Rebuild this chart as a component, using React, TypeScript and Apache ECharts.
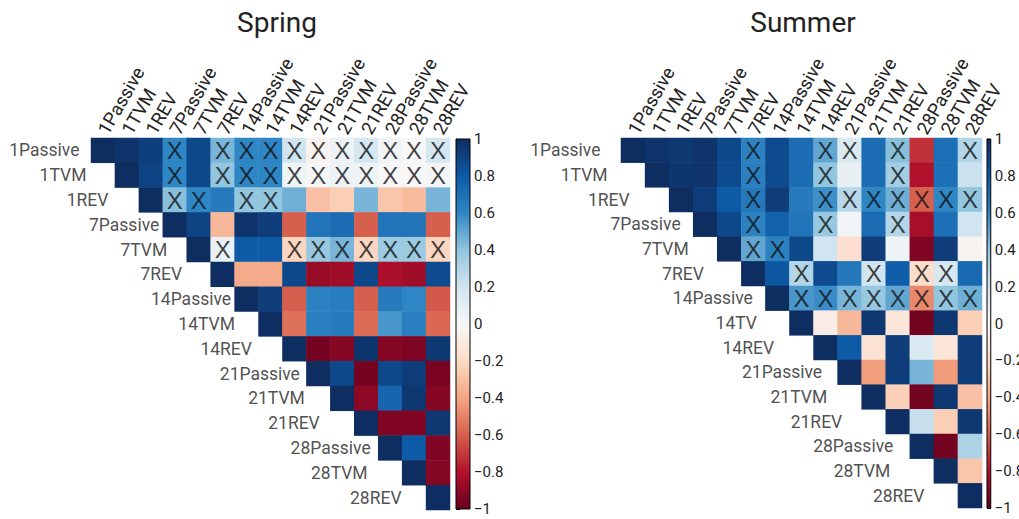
import React, { useEffect, useRef } from 'react';
import * as echarts from 'echarts';

// Variable names shared by both panels (columns across the top)
const columns = [
  '1Passive', '1TVM', '1REV', '7Passive', '7TVM', '7REV', '14Passive', '14TVM',
  '14REV', '21Passive', '21TVM', '21REV', '28Passive', '28TVM', '28REV',
];
const springRowNames = columns;
const summerRowNames = [
  '1Passive', '1TVM', '1REV', '7Passive', '7TVM', '7REV', '14Passive', '14TV',
  '14REV', '21Passive', '21TVM', '21REV', '28Passive', '28TVM', '28REV',
];

// Upper triangle of each correlation matrix: row i lists columns i..14
const springValues: number[][] = [
  [1, 0.97, 0.92, 0.6, 0.88, 0.45, 0.6, 0.6, 0.2, -0.03, 0.06, 0.18, 0.03, 0.0, 0.18],
  [1, 0.9, 0.6, 0.88, 0.4, 0.6, 0.6, 0.05, 0.01, 0.06, 0.05, 0.0, 0.0, 0.02],
  [1, 0.42, 0.6, 0.65, 0.4, 0.4, 0.47, -0.3, -0.25, 0.45, -0.28, -0.32, 0.45],
  [1, 0.9, -0.33, 0.97, 0.93, -0.6, 0.68, 0.72, -0.6, 0.68, 0.68, -0.6],
  [1, 0.07, 0.8, 0.8, -0.22, 0.38, 0.45, -0.22, 0.37, 0.37, -0.22],
  [1, -0.38, -0.38, 0.88, -0.87, -0.85, 0.88, -0.82, -0.85, 0.87],
  [1, 0.93, -0.6, 0.62, 0.64, -0.6, 0.65, 0.6, -0.62],
  [1, -0.55, 0.63, 0.65, -0.57, 0.55, 0.63, -0.58],
  [1, -0.96, -0.92, 0.96, -0.92, -0.94, 0.95],
  [1, 0.88, -0.96, 0.88, 0.93, -0.95],
  [1, -0.9, 0.75, 0.95, -0.92],
  [1, -0.93, -0.93, 0.95],
  [1, 0.8, -0.93],
  [1, -0.92],
  [1],
];

const summerValues: number[][] = [
  [1, 0.97, 0.95, 0.97, 0.88, 0.62, 0.87, 0.72, 0.5, 0.15, 0.72, 0.42, -0.72, 0.7, 0.3],
  [1, 0.96, 0.97, 0.87, 0.63, 0.87, 0.72, 0.4, 0.08, 0.72, 0.35, -0.8, 0.7, 0.22],
  [1, 0.93, 0.8, 0.66, 0.93, 0.65, 0.57, 0.28, 0.6, 0.47, -0.6, 0.6, 0.4],
  [1, 0.88, 0.62, 0.77, 0.68, 0.38, 0.03, 0.72, 0.3, -0.83, 0.7, 0.2],
  [1, 0.5, 0.62, 0.88, 0.2, -0.17, 0.93, 0.05, -0.93, 0.93, -0.03],
  [1, 0.82, 0.3, 0.87, 0.66, 0.2, 0.78, -0.18, 0.17, 0.73],
  [1, 0.55, 0.58, 0.45, 0.38, 0.5, -0.48, 0.4, 0.47],
  [1, -0.08, -0.33, 0.95, -0.12, -0.97, 0.95, -0.25],
  [1, 0.8, -0.15, 0.93, 0.15, -0.13, 0.93],
  [1, -0.42, 0.93, 0.45, -0.43, 0.93],
  [1, -0.24, -0.97, 0.95, -0.3],
  [1, 0.23, -0.25, 0.95],
  [1, -0.97, 0.32],
  [1, -0.28],
  [1],
];

// Column indices of non-significant correlations, per row
const springCrossed: number[][] = [
  [3, 5, 6, 7, 8, 9, 10, 11, 12, 13, 14],
  [3, 5, 6, 7, 8, 9, 10, 11, 12, 13, 14],
  [3, 4, 6, 7],
  [],
  [5, 8, 9, 10, 11, 12, 13, 14],
];
const summerCrossed: number[][] = [
  [5, 8, 9, 11, 14],
  [5, 8, 11],
  [5, 8, 9, 10, 11, 12, 13, 14],
  [5, 8, 11],
  [5, 6],
  [7, 10, 12, 13],
  [7, 8, 9, 10, 11, 12, 13, 14],
];

const colorRange = [-1, 1];
const colorTickStep = 0.2;

// Diverging red-blue palette, evenly spaced from -1 to 1
const palette = [
  '#67001f', '#b2112b', '#d6604d', '#f4a582', '#fddbc7', '#f7f7f7',
  '#d1e5f0', '#92c5de', '#2f86c4', '#0d5aa7', '#0e2d60',
];

// Space between each row label and its diagonal cell
const springLabelGap = [11, 28, 30, 3, 19, 28, 3, 23, 30, 6, 25, 34, 7, 34, 24];
const summerLabelGap = springLabelGap.map((g) => g + 9);

const FONT = 'Roboto, "Liberation Sans", sans-serif';
const TEXT = '#222';

type Panel = {
  title: string;
  titleX: number;
  rows: string[];
  values: number[][];
  crossed: number[][];
  labelGap: number[];
  grid: { left: number; top: number; width: number; height: number };
  bar: { left: number; top: number; width: number; height: number };
};

const panels: Panel[] = [
  {
    title: 'Spring',
    titleX: 272,
    rows: springRowNames,
    values: springValues,
    crossed: springCrossed,
    labelGap: springLabelGap,
    grid: { left: 91, top: 138, width: 359, height: 372 },
    bar: { left: 456, top: 139, width: 14, height: 370 },
  },
  {
    title: 'Summer',
    titleX: 798,
    rows: summerRowNames,
    values: summerValues,
    crossed: summerCrossed,
    labelGap: summerLabelGap,
    grid: { left: 621, top: 138, width: 361, height: 370 },
    bar: { left: 987, top: 139, width: 15, height: 369 },
  },
];

const toCells = (values: number[][]) =>
  values.flatMap((row, i) => row.map((v, k) => [i + k, i, v]));

const toCrosses = (crossed: number[][]) =>
  crossed.flatMap((cols, i) => cols.map((j) => [j, i]));

const tickLabel = (v: number) => {
  const r = Math.round(v * 10) / 10;
  if (r === 0) return '0';
  const s = String(Math.abs(r));
  return r < 0 ? '\u2212' + s : s;
};

function buildOption(): echarts.EChartsOption {
  const grid: any[] = [];
  const xAxis: any[] = [];
  const yAxis: any[] = [];
  const series: any[] = [];
  const heatIndices: number[] = [];

  panels.forEach((p, k) => {
    const heat = 2 * k;
    const barIdx = 2 * k + 1;
    const cellW = p.grid.width / columns.length;
    grid.push({ ...p.grid }, { ...p.bar });

    xAxis.push(
      {
        gridIndex: heat,
        type: 'category',
        data: columns,
        position: 'top',
        axisLine: { show: false },
        axisTick: { show: false },
        splitLine: { show: false },
        axisLabel: {
          rotate: -60,
          interval: 0,
          margin: 5,
          fontSize: 18.5,
          fontFamily: FONT,
          color: TEXT,
        },
      },
      { gridIndex: barIdx, type: 'value', min: 0, max: 1, show: false },
    );
    yAxis.push(
      {
        gridIndex: heat,
        type: 'category',
        data: p.rows,
        inverse: true,
        show: false,
      },
      {
        gridIndex: barIdx,
        type: 'value',
        min: colorRange[0],
        max: colorRange[1],
        interval: colorTickStep,
        position: 'right',
        axisLine: { show: true, lineStyle: { color: '#000', width: 1 } },
        axisTick: { show: true, length: 4, lineStyle: { color: '#000', width: 1 } },
        splitLine: { show: false },
        axisLabel: {
          formatter: tickLabel,
          fontSize: 15,
          fontFamily: FONT,
          color: TEXT,
          margin: 4,
        },
      },
    );

    heatIndices.push(series.length);
    series.push({
      type: 'heatmap',
      xAxisIndex: heat,
      yAxisIndex: heat,
      data: toCells(p.values),
      itemStyle: { borderWidth: 0 },
      emphasis: { disabled: true },
      silent: true,
    });

    series.push({
      type: 'scatter',
      xAxisIndex: heat,
      yAxisIndex: heat,
      data: toCrosses(p.crossed),
      symbol: 'circle',
      symbolSize: 1,
      itemStyle: { color: 'transparent' },
      silent: true,
      label: {
        show: true,
        position: 'inside',
        formatter: 'X',
        fontSize: 24,
        fontFamily: '"Liberation Sans", Arial, sans-serif',
        color: '#111',
      },
    });

    series.push({
      type: 'scatter',
      xAxisIndex: heat,
      yAxisIndex: heat,
      data: p.rows.map((_, i) => ({
        value: [i, i],
        label: { distance: cellW / 2 + p.labelGap[i] },
      })),
      symbol: 'circle',
      symbolSize: 1,
      itemStyle: { color: 'transparent' },
      silent: true,
      label: {
        show: true,
        position: 'left',
        formatter: (prm: any) => p.rows[prm.dataIndex],
        fontSize: 17.5,
        fontFamily: FONT,
        color: TEXT,
      },
    });

    series.push({
      type: 'custom',
      xAxisIndex: barIdx,
      yAxisIndex: barIdx,
      data: [colorRange],
      silent: true,
      renderItem: (_params: any, api: any) => {
        const top = api.coord([0, colorRange[1]]);
        const bottom = api.coord([1, colorRange[0]]);
        const n = palette.length - 1;
        const stops = palette.map((_, i) => ({
          offset: i / n,
          color: palette[n - i],
        }));
        return {
          type: 'rect',
          shape: {
            x: top[0],
            y: top[1],
            width: bottom[0] - top[0],
            height: bottom[1] - top[1],
          },
          style: {
            fill: new echarts.graphic.LinearGradient(0, 0, 0, 1, stops),
            stroke: '#000',
            lineWidth: 1,
          },
        };
      },
    });
  });

  return {
    animation: false,
    backgroundColor: '#fff',
    title: panels.map((p) => ({
      text: p.title,
      left: p.titleX,
      top: 3,
      textAlign: 'center',
      textStyle: { fontSize: 28, fontWeight: 'normal', fontFamily: FONT, color: TEXT },
    })),
    grid,
    xAxis,
    yAxis,
    visualMap: [
      {
        show: false,
        type: 'continuous',
        seriesIndex: heatIndices,
        dimension: 2,
        min: colorRange[0],
        max: colorRange[1],
        inRange: { color: palette },
      },
    ],
    series,
  } as any;
}

export default function App() {
  const ref = useRef<HTMLDivElement>(null);
  useEffect(() => {
    if (!ref.current) return;
    const chart = echarts.init(ref.current, null, { renderer: 'svg' });
    chart.setOption(buildOption());
    return () => chart.dispose();
  }, []);
  return (
    <div
      ref={ref}
      style={{ position: 'fixed', left: 0, top: 0, width: 1019, height: 519 }}
    />
  );
}
